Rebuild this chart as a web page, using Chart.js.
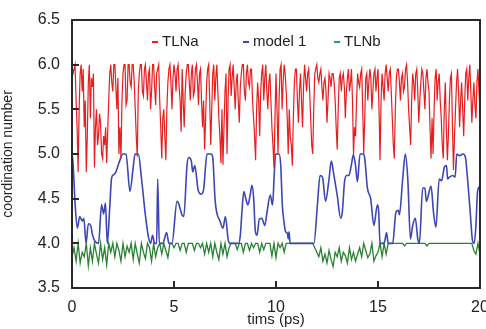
<!DOCTYPE html>
<html>
<head>
<meta charset="utf-8">
<script src="https://cdn.jsdelivr.net/npm/chart.js@4.4.1/dist/chart.umd.min.js"></script>
<style>
	html, body { margin: 0; padding: 0; background: #fff; }
	#wrap { position: relative; width: 486px; height: 329px; }
	#wrap canvas { position: absolute; left: 0; top: 0; }
	.frame { position: absolute; box-sizing: border-box; border: 2px solid rgb(40, 40, 40); pointer-events: none; }
	.tick { position: absolute; background: rgb(40, 40, 40); pointer-events: none; }
</style>
</head>
<body>
<div id="wrap"><canvas id="chartID" width="486" height="329"></canvas></div>
<script>
// sampling steps of the TLNa / TLNb traces (ps)
const tlnaStep = 0.05
const tlnbStep = 0.1

// TLNa, one value per 0.05 ps, 20 per row (one row = 1 ps)
const tlnaValues = [
	6.0, 5.9, 5.95, 6.0, 5.6, 5.3, 4.8, 5.5, 5.9, 6.0, 5.7, 5.95, 5.3, 5.6, 4.8, 5.2, 5.8, 6.0, 5.4, 5.85,
	5.75, 5.9, 4.85, 5.3, 5.5, 5.1, 5.2, 5.45, 5.35, 5.0, 4.95, 5.2, 5.1, 5.3, 4.9, 5.25, 5.6, 5.9, 6.0, 5.8,
	5.7, 6.0, 6.0, 5.75, 5.5, 5.85, 5.0, 5.3, 4.95, 5.6, 5.9, 6.0, 6.0, 5.55, 5.6, 6.0, 6.0, 5.8, 5.75, 6.0,
	6.0, 5.8, 5.5, 5.2, 4.97, 5.7, 5.9, 6.0, 6.0, 5.7, 5.65, 5.95, 6.0, 5.8, 5.6, 5.9, 5.95, 5.5, 5.7, 6.0,
	6.0, 5.75, 5.55, 5.9, 5.95, 6.0, 5.6, 5.3, 4.95, 5.4, 5.5, 5.2, 4.93, 5.5, 5.8, 5.95, 6.0, 5.8, 5.5, 5.85,
	6.0, 5.9, 5.7, 5.95, 6.0, 5.75, 5.6, 5.25, 5.95, 5.6, 5.3, 5.7, 5.9, 6.0, 6.0, 5.8, 5.6, 5.9, 6.0, 5.65,
	5.7, 5.95, 6.0, 5.8, 5.55, 5.9, 5.95, 5.6, 5.3, 5.6, 5.05, 5.4, 5.8, 5.95, 6.0, 5.6, 5.1, 5.5, 5.9, 6.0,
	5.6, 5.85, 6.0, 5.7, 5.4, 5.2, 4.9, 5.5, 4.88, 5.3, 5.7, 5.9, 5.0, 5.6, 5.95, 6.0, 5.65, 5.85, 6.0, 5.75,
	5.5, 5.8, 5.9, 5.6, 5.35, 5.75, 5.9, 6.0, 6.0, 5.7, 5.6, 5.9, 6.0, 5.8, 5.75, 5.95, 5.95, 5.6, 5.4, 5.2,
	4.93, 5.5, 5.8, 5.6, 5.2, 5.7, 5.9, 6.0, 5.6, 5.85, 6.0, 5.7, 5.5, 5.8, 5.9, 5.6, 5.3, 5.1, 4.85, 5.4,
	5.9, 5.5, 5.0, 5.6, 5.95, 6.0, 5.5, 5.8, 6.0, 5.9, 5.7, 5.4, 5.0, 5.5, 5.2, 5.1, 4.87, 5.4, 5.8, 5.95,
	5.95, 5.6, 5.35, 5.7, 5.9, 5.6, 5.3, 5.75, 6.0, 5.85, 5.7, 5.9, 5.95, 5.7, 5.4, 5.1, 5.0, 5.5, 5.9, 5.95,
	6.0, 5.85, 5.8, 5.9, 5.95, 5.75, 5.6, 5.8, 5.85, 5.7, 5.35, 5.6, 5.9, 5.85, 5.75, 5.9, 5.9, 5.8, 5.6, 5.3,
	5.05, 5.5, 5.85, 5.9, 5.7, 5.85, 5.9, 5.75, 5.4, 5.7, 5.85, 5.95, 5.7, 5.8, 5.95, 5.6, 4.99, 5.3, 5.2, 5.6,
	5.9, 5.8, 5.75, 5.9, 5.95, 5.5, 5.0, 5.4, 5.85, 5.9, 5.6, 5.8, 5.95, 5.85, 5.5, 5.7, 5.9, 5.95, 5.7, 5.85,
	5.95, 5.5, 4.93, 5.6, 5.9, 5.75, 5.6, 5.9, 6.0, 5.85, 5.7, 5.9, 5.95, 5.7, 5.4, 5.1, 4.95, 5.5, 5.85, 5.95,
	5.95, 5.8, 5.6, 5.85, 5.9, 5.7, 5.75, 5.95, 6.0, 5.8, 5.5, 5.3, 5.1, 5.6, 5.9, 5.8, 5.6, 5.9, 5.95, 5.7,
	5.35, 5.6, 5.8, 5.95, 5.9, 5.7, 5.5, 5.85, 5.95, 5.8, 5.7, 5.3, 4.95, 5.4, 5.0, 5.5, 5.85, 5.95, 5.6, 5.8,
	5.9, 5.6, 5.4, 5.1, 4.95, 5.5, 5.8, 5.3, 4.93, 5.2, 5.6, 5.85, 5.9, 5.3, 4.82, 5.2, 5.5, 5.8, 5.95, 5.7,
	5.3, 5.6, 5.8, 5.5, 5.2, 5.6, 5.9, 5.95, 5.6, 5.85, 6.0, 5.7, 5.35, 5.6, 5.8, 5.55, 5.4, 5.8, 5.95, 5.7,
	5.5
]

// TLNb, one value per 0.1 ps
const tlnbValues = [
	3.85, 3.95, 3.8, 4.0, 3.78, 3.9, 3.85, 4.0, 3.75, 3.95,
	3.8, 4.0, 3.88, 3.78, 4.0, 3.82, 3.95, 3.76, 4.0, 3.9,
	4.0, 3.85, 4.0, 3.92, 3.8, 4.0, 3.85, 3.97, 3.9, 4.0,
	3.82, 4.0, 3.88, 3.78, 4.0, 3.9, 3.83, 4.0, 3.95, 3.8,
	4.0, 3.85, 3.95, 4.0, 3.88, 4.0, 3.92, 3.84, 4.0, 4.0,
	3.95, 4.0, 4.0, 3.92, 4.0, 4.0, 3.9, 4.0, 4.0, 4.0,
	3.92, 4.0, 4.0, 3.95, 4.0, 3.88, 4.0, 3.9, 4.0, 3.85,
	4.0, 3.9, 3.82, 4.0, 3.88, 4.0, 3.85, 3.95, 4.0, 4.0,
	4.0, 3.93, 4.0, 4.0, 3.9, 4.0, 4.0, 3.92, 4.0, 3.95,
	4.0, 4.0, 3.9, 4.0, 3.93, 4.0, 4.0, 4.0, 3.86, 4.0,
	3.84, 4.0, 3.95, 4.0, 3.9, 4.0, 4.0, 4.0, 4.0, 4.0,
	4.0, 4.0, 4.0, 4.0, 4.0, 4.0, 4.0, 4.0, 4.0, 3.95,
	3.9, 3.85, 3.95, 3.8, 3.88, 3.78, 3.92, 3.82, 3.74, 3.9,
	3.85, 3.95, 3.8, 3.9, 3.86, 3.78, 3.95, 3.82, 3.9, 3.8,
	3.88, 3.95, 3.85, 4.0, 3.92, 3.84, 3.88, 4.0, 3.8, 3.86,
	3.9, 4.0, 3.85, 4.0, 3.88, 4.0, 4.0, 4.0, 4.0, 4.0,
	4.0, 4.0, 4.0, 3.97, 4.0, 4.0, 4.0, 4.0, 4.0, 4.0,
	4.0, 4.0, 4.0, 4.0, 3.97, 4.0, 4.0, 4.0, 4.0, 4.0,
	4.0, 4.0, 4.0, 4.0, 4.0, 4.0, 4.0, 4.0, 4.0, 4.0,
	4.0, 4.0, 4.0, 4.0, 4.0, 4.0, 4.0, 3.92, 3.88, 4.0,
	3.88
]

// model 1, traced points (time in ps, value)
const model1Time = [
	0, 0.05, 0.15, 0.26, 0.38, 0.5, 0.58, 0.69, 0.8, 0.92,
	1.0, 1.13, 1.3, 1.45, 1.55, 1.64, 1.73, 1.85, 1.94, 2.05,
	2.15, 2.3, 2.5, 2.65, 2.84, 3.0, 3.09, 3.25, 3.41, 3.58,
	3.74, 3.85, 3.95, 4.05, 4.15, 4.2, 4.28, 4.45, 4.64, 4.75,
	4.9, 5.15, 5.22, 5.39, 5.48, 5.64, 5.72, 5.85, 5.92, 6.02,
	6.18, 6.34, 6.45, 6.62, 6.82, 6.9, 7.02, 7.27, 7.4, 7.52,
	7.65, 7.72, 8.17, 8.25, 8.33, 8.42, 8.52, 8.62, 8.74, 8.82,
	8.9, 8.99, 9.07, 9.18, 9.3, 9.45, 9.56, 9.72, 9.83, 9.92,
	9.98, 10.15, 10.23, 10.31, 10.39, 10.47, 10.56, 10.6, 10.64, 10.69,
	11.86, 12.03, 12.16, 12.28, 12.43, 12.6, 12.71, 12.84, 13.0, 13.17,
	13.25, 13.36, 13.46, 13.57, 13.69, 13.79, 13.9, 13.99, 14.12, 14.28,
	14.35, 14.48, 14.64, 14.8, 14.97, 15.03, 15.1, 15.3, 15.42, 15.5,
	15.72, 15.88, 16.0, 16.05, 16.21, 16.34, 16.46, 16.59, 16.7, 16.83,
	16.95, 17.03, 17.19, 17.3, 17.37, 17.6, 17.72, 17.84, 18.0, 18.12,
	18.25, 18.36, 18.41, 18.5, 18.66, 18.78, 18.86, 19.0, 19.15, 19.28,
	19.39, 19.52, 19.64, 19.72, 19.8, 19.88, 20.0
]
const model1Values = [
	5.0, 4.9, 4.45, 4.17, 4.3, 4.25, 4.28, 4.0, 4.22, 4.2,
	4.1, 4.02, 4.0, 4.43, 4.33, 4.45, 4.0, 4.4, 4.73, 4.77,
	4.8, 4.9, 5.0, 5.0, 4.58, 4.85, 5.0, 5.0, 4.72, 4.35,
	4.08, 4.0, 4.09, 4.0, 4.0, 4.72, 4.0, 4.0, 4.12, 4.0,
	4.0, 4.47, 4.45, 4.32, 4.3, 4.88, 4.96, 4.92, 4.8, 4.87,
	4.6, 4.55, 4.6, 5.0, 5.0, 4.96, 4.47, 4.24, 4.17, 4.3,
	4.05, 4.0, 4.0, 4.09, 4.35, 4.58, 4.5, 4.43, 4.55, 4.65,
	4.52, 4.13, 4.09, 4.27, 4.28, 4.2, 4.35, 4.54, 4.43, 4.8,
	5.0, 5.0, 4.88, 4.43, 4.24, 4.13, 4.11, 4.05, 4.13, 4.0,
	4.0, 4.43, 4.76, 4.74, 4.47, 4.72, 4.92, 4.76, 4.54, 4.28,
	4.35, 4.69, 4.76, 4.76, 4.87, 4.99, 4.87, 4.69, 5.0, 5.0,
	4.95, 4.62, 4.5, 4.2, 4.43, 4.37, 4.0, 4.0, 4.12, 4.0,
	4.0, 4.35, 4.37, 4.32, 4.72, 5.0, 4.72, 4.05, 4.2, 4.28,
	4.05, 4.0, 4.62, 4.62, 4.47, 4.64, 4.35, 4.18, 4.72, 4.7,
	4.85, 4.87, 4.72, 4.74, 4.76, 4.74, 5.0, 4.98, 5.0, 4.97,
	4.72, 4.35, 4.02, 4.0, 4.2, 4.58, 4.64
]

const xTicks = [0, 5, 10, 15, 20]
const yTicks = [3.5, 4.0, 4.5, 5.0, 5.5, 6.0, 6.5]

const fontFamily = '"Liberation Sans", Arial, sans-serif'
const toPoints = (vals, step) => vals.map((v, i) => ({ x: i * step, y: v }))

const data = {
	datasets: [
		{
			label: 'TLNa',
			data: toPoints(tlnaValues, tlnaStep),
			borderColor: 'rgb(232, 30, 30)',
			borderWidth: 1.2,
			pointRadius: 0,
			tension: 0,
		},
		{
			label: 'model 1',
			data: model1Time.map((t, i) => ({ x: t, y: model1Values[i] })),
			borderColor: 'rgb(60, 70, 180)',
			borderWidth: 1.6,
			pointRadius: 0,
			cubicInterpolationMode: 'monotone',
		},
		{
			label: 'TLNb',
			data: toPoints(tlnbValues, tlnbStep),
			borderColor: 'rgb(40, 130, 50)',
			borderWidth: 1.3,
			pointRadius: 0,
			tension: 0,
		},
	],
}
const legendColors = ['rgb(232, 30, 30)', 'rgb(60, 70, 180)', 'rgb(40, 150, 140)']

// in-plot legend drawn on the canvas
const legendPlugin = {
	id: 'inlegend',
	afterDraw(chart) {
		const ctx = chart.ctx
		const legendX = [152, 243, 334]
		ctx.save()
		ctx.font = '15px ' + fontFamily
		ctx.textBaseline = 'middle'
		chart.data.datasets.forEach(function(ds, i) {
			ctx.fillStyle = legendColors[i]
			ctx.fillRect(legendX[i], 41, 6, 2)
			ctx.fillStyle = 'rgb(34, 34, 34)'
			ctx.fillText(ds.label, legendX[i] + 10, 42)
		})
		ctx.restore()
	},
}

// box round the plot and inward ticks, placed from the chart's own scales
function addFrame(chart) {
	const wrap = document.getElementById('wrap')
	const sx = chart.scales.x
	const sy = chart.scales.y
	const box = document.createElement('div')
	box.className = 'frame'
	box.style.left = (sx.left - 1) + 'px'
	box.style.top = (sy.top - 1) + 'px'
	box.style.width = (sx.right - sx.left + 2) + 'px'
	box.style.height = (sy.bottom - sy.top + 2) + 'px'
	wrap.appendChild(box)
	xTicks.forEach(function(t) {
		const d = document.createElement('div')
		d.className = 'tick'
		d.style.left = (sx.getPixelForValue(t) - 1) + 'px'
		d.style.top = (sy.bottom - 7) + 'px'
		d.style.width = '2px'
		d.style.height = '7px'
		wrap.appendChild(d)
	})
	yTicks.forEach(function(t) {
		const d = document.createElement('div')
		d.className = 'tick'
		d.style.left = sx.left + 'px'
		d.style.top = (sy.getPixelForValue(t) - 1) + 'px'
		d.style.width = '7px'
		d.style.height = '2px'
		wrap.appendChild(d)
	})
}

window.onload = function() {
	let chartCtx = document.getElementById('chartID').getContext('2d')
	window.lineChart = new Chart(chartCtx, {
		type: 'line',
		data: data,
		plugins: [legendPlugin],
		options: {
			responsive: false,
			animation: false,
			layout: { padding: { top: 20, right: 6, left: 0, bottom: 0 } },
			plugins: {
				legend: { display: false },
				tooltip: { enabled: false },
			},
			scales: {
				x: {
					type: 'linear',
					min: 0,
					max: 20,
					grid: { display: false },
					border: { display: false },
					afterBuildTicks: function(scale) {
						scale.ticks = xTicks.map(v => ({ value: v }))
					},
					afterFit: function(scale) {
						scale.height = 41
						scale.paddingLeft = 0
						scale.paddingRight = 0
					},
					ticks: {
						color: '#222',
						padding: 2,
						maxRotation: 0,
						font: { size: 16, family: fontFamily },
					},
					title: {
						display: true,
						text: 'tims (ps)',
						color: '#222',
						padding: 0,
						font: { size: 15, family: fontFamily },
					},
				},
				y: {
					min: 3.5,
					max: 6.5,
					grid: { display: false },
					border: { display: false },
					afterBuildTicks: function(scale) {
						scale.ticks = yTicks.map(v => ({ value: v }))
					},
					afterFit: function(scale) {
						scale.width = 72
						scale.paddingTop = 0
						scale.paddingBottom = 0
					},
					ticks: {
						color: '#222',
						padding: 4,
						font: { size: 16, family: fontFamily },
						callback: v => v.toFixed(1),
					},
					title: {
						display: true,
						text: 'coordination number',
						color: '#222',
						padding: 0,
						font: { size: 14, family: fontFamily },
					},
				},
			},
		},
	})
	addFrame(window.lineChart)
}
</script>
</body>
</html>
